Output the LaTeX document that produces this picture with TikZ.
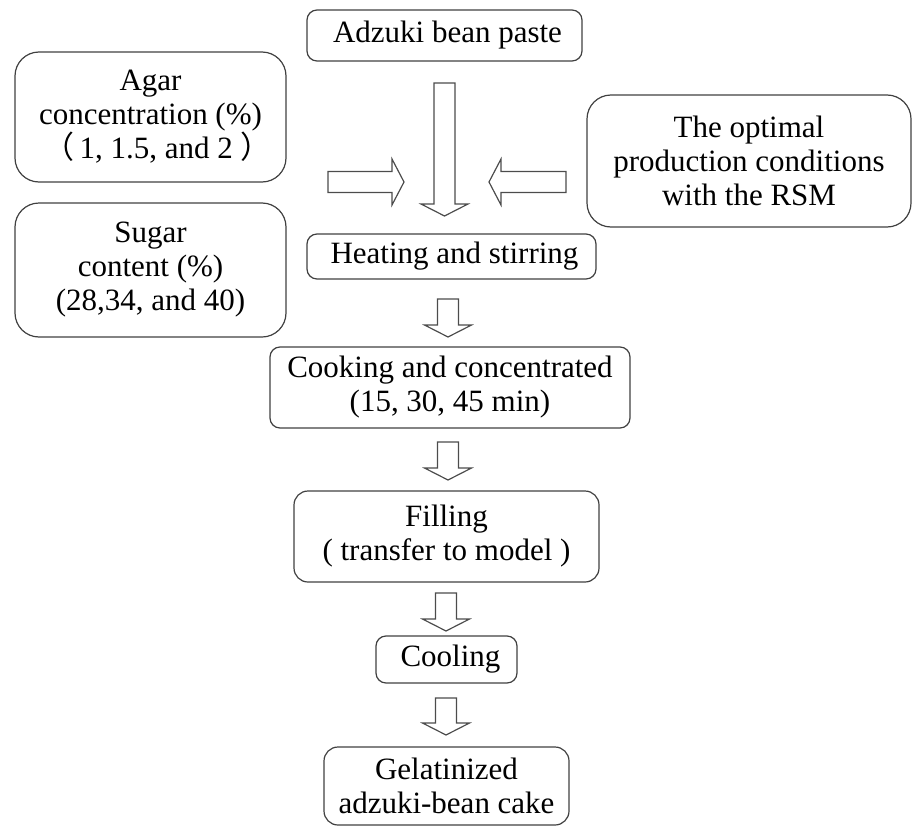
\documentclass[tikz,border=0pt]{standalone}
\usepackage{fontspec}
\setmainfont{Liberation Serif}
\newfontfamily\cjk{Noto Sans CJK SC}
\usetikzlibrary{calc}

\newcommand{\dnarrow}[2]{%
	\draw [hollow] ($(#1)+(-10.5,0)$) -- ($(#2)+(-10.5,-12)$) -- ($(#2)+(-23.5,-12)$) -- (#2)
		-- ($(#2)+(23.5,-12)$) -- ($(#2)+(10.5,-12)$) -- ($(#1)+(10.5,0)$) -- cycle;}
\newcommand{\sidearrow}[3]{%
	\draw [hollow] ($(#1)+(0,-10.5)$) -- ($(#2)+(#3,-10.5)$) -- ($(#2)+(#3,-23)$) -- (#2)
		-- ($(#2)+(#3,23)$) -- ($(#2)+(#3,10.5)$) -- ($(#1)+(0,10.5)$) -- cycle;}

\begin{document}
\begin{tikzpicture}[x = 1pt, y = -1pt,
		box/.style = {draw = black!75, line width = 1.2pt, rounded corners = 10pt, align = center, inner sep = 2pt,
			font = \fontsize{31}{34}\selectfont},
		bigbox/.style = {box, rounded corners = 24pt},
		hollow/.style = {draw = black!70, line width = 1.2pt, line join = miter}]
		\useasboundingbox (0,0) rectangle (913,827);
		
		\node (paste) at (444.5,35.5) [box, minimum width = 275pt, minimum height = 51pt] {\hspace{6pt}Adzuki bean paste};
		\node (agar) at (150.5,117) [bigbox, minimum width = 271pt, minimum height = 130pt]
			{Agar\\concentration (\%)\\\hspace{14pt}{\cjk （}\,1, 1.5, and 2\ {\cjk ）}};
		\node (sugar) at (150.5,270) [bigbox, minimum width = 271pt, minimum height = 134pt]
			{Sugar\\content (\%)\\(28,34, and 40)};
		\node (rsm) at (749,161) [bigbox, minimum width = 324pt, minimum height = 132pt]
			{The optimal\\production conditions\\with the RSM};
		\node (heat) at (451.5,256.5) [box, minimum width = 289pt, minimum height = 45pt] {\hspace{6pt}Heating and stirring};
		\node (cook) at (450,387.5) [box, minimum width = 360pt, minimum height = 81pt]
			{Cooking and concentrated\\(15, 30, 45 min)};
		\node (fill) at (446.5,536.5) [box, rounded corners = 14pt, minimum width = 305pt, minimum height = 91pt]
			{Filling\\( transfer to model )};
		\node (cool) at (446.5,659.5) [box, minimum width = 141pt, minimum height = 47pt] {\hspace{8pt}Cooling};
		\node (gel) at (446.5,786) [box, rounded corners = 14pt, minimum width = 245pt, minimum height = 78pt]
			{Gelatinized\\adzuki-bean cake};
		
		\coordinate (p0) at (444.5,83);
		\coordinate (p1) at (444.5,216);
		\coordinate (l0) at (328,182);
		\coordinate (l1) at (404,182);
		\coordinate (r0) at (566,182);
		\coordinate (r1) at (489,182);
		\coordinate (h0) at (448,299);
		\coordinate (h1) at (448,337);
		\coordinate (c0) at (448,442);
		\coordinate (c1) at (448,480);
		\coordinate (f0) at (446,593);
		\coordinate (f1) at (446,631);
		\coordinate (k0) at (446,698);
		\coordinate (k1) at (446,735);
		
		\dnarrow{p0}{p1}
		\sidearrow{l0}{l1}{-12}
		\sidearrow{r0}{r1}{12}
		\dnarrow{h0}{h1}
		\dnarrow{c0}{c1}
		\dnarrow{f0}{f1}
		\dnarrow{k0}{k1}
		\end{tikzpicture}
\end{document}
